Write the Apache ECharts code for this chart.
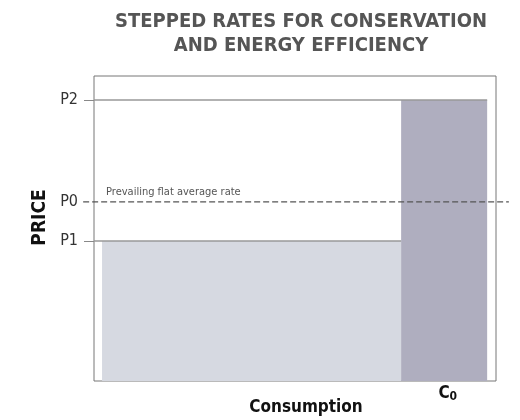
<!DOCTYPE html>
<html><head><meta charset="utf-8">
<script src="https://cdn.jsdelivr.net/npm/echarts@6/dist/echarts.min.js"></script>
<style>html,body{margin:0;padding:0;background:#fff}#c{width:520px;height:420px}</style>
</head><body><div id="c"></div>
<script>
// Data
const tierNames = ['P1', 'P2'];
const tierStart = [2, 76.4];     // consumption where each tier bar begins
const tierEnd = [76.4, 97.8];    // consumption where each tier bar ends
const tierPrice = [45.9, 92.1];  // price level of each tier
const flatRateName = 'P0';
const flatRate = 58.7;
const flatRateText = 'Prevailing flat average rate';
const priceTickNames = ['P1', 'P0', 'P2'];
const priceTickValues = [45.9, 58.7, 92.1];
const consumptionMarkName = 'C0';
const consumptionMarkValue = 88;
const tierColors = ['#d6d9e1', '#afaebf'];

const FONT = "'Liberation Sans Narrow', 'DejaVu Sans Condensed', 'Roboto Condensed', sans-serif";

const barData = tierNames.map((n, i) => [tierStart[i], tierEnd[i], tierPrice[i], i]);
const lineData = tierNames.map((n, i) => [0, tierEnd[i], tierPrice[i]]);

const chart = echarts.init(document.getElementById('c'));
chart.setOption({
  animation: false,
  title: {
    text: 'STEPPED RATES FOR CONSERVATION\nAND ENERGY EFFICIENCY',
    left: 296, top: 5, textAlign: 'center',
    textStyle: { fontFamily: FONT, fontWeight: 'bold', fontSize: 20, color: '#555', lineHeight: 24 }
  },
  grid: { left: 94, top: 76, width: 402, height: 305, show: true, borderColor: '#777', borderWidth: 1,
    backgroundColor: 'transparent', outerBoundsMode: 'none', containLabel: false },
  xAxis: {
    type: 'value', min: 0, max: 100,
    axisLine: { show: false }, splitLine: { show: false }, axisTick: { show: false },
    name: 'Consumption', nameLocation: 'middle', nameGap: 18, nameMoveOverlap: false,
    nameTextStyle: { fontFamily: FONT, fontWeight: 'bold', fontSize: 17, color: '#111', padding: [0, 0, 0, 22] },
    axisLabel: {
      customValues: [consumptionMarkValue], margin: 4,
      formatter: () => '{c|' + consumptionMarkName.charAt(0) + '}{s|' + consumptionMarkName.slice(1) + '}',
      rich: {
        c: { fontFamily: FONT, fontWeight: 'bold', fontSize: 17, color: '#111' },
        s: { fontFamily: FONT, fontWeight: 'bold', fontSize: 12, color: '#111', verticalAlign: 'bottom', padding: [6, 0, 0, 0] }
      }
    }
  },
  yAxis: {
    type: 'value', min: 0, max: 100,
    axisLine: { show: false }, splitLine: { show: false },
    axisTick: { show: true, customValues: [tierPrice[0], tierPrice[1]], length: 10, lineStyle: { color: '#888' } },
    axisLabel: {
      customValues: priceTickValues, margin: 16,
      formatter: (v) => priceTickNames[priceTickValues.indexOf(v)],
      fontFamily: FONT, fontSize: 16, color: '#333'
    },
    name: 'PRICE', nameLocation: 'middle', nameGap: 44, nameRotate: 90, nameMoveOverlap: false,
    nameTextStyle: { fontFamily: FONT, fontWeight: 'bold', fontSize: 19, color: '#111', padding: [0, 0, 0, 22] }
  },
  series: [
    {
      type: 'custom', data: barData, clip: false, z: 1,
      renderItem: (params, api) => {
        const p0 = api.coord([api.value(0), api.value(2)]);
        const p1 = api.coord([api.value(1), 0]);
        return { type: 'rect', shape: { x: p0[0], y: p0[1], width: p1[0] - p0[0], height: p1[1] - p0[1] },
          style: { fill: tierColors[api.value(3)] } };
      }
    },
    {
      type: 'custom', data: lineData, clip: false, z: 2,
      renderItem: (params, api) => {
        const a = api.coord([api.value(0), api.value(2)]);
        const b = api.coord([api.value(1), api.value(2)]);
        return { type: 'line', shape: { x1: a[0], y1: a[1], x2: b[0], y2: b[1] },
          style: { stroke: '#999', lineWidth: 1.5 } };
      }
    },
    {
      type: 'custom', data: [[-2.7, 103.2, flatRate]], clip: false, z: 3,
      renderItem: (params, api) => {
        const a = api.coord([api.value(0), api.value(2)]);
        const b = api.coord([api.value(1), api.value(2)]);
        const t = api.coord([3, api.value(2)]);
        return { type: 'group', children: [
          { type: 'line', shape: { x1: a[0], y1: a[1], x2: b[0], y2: b[1] },
            style: { stroke: '#555', lineWidth: 1.2, lineDash: [6, 3] } },
          { type: 'text', x: t[0], y: t[1] - 4,
            style: { text: flatRateText, fontFamily: FONT, fontSize: 11, fill: '#555', align: 'left', verticalAlign: 'bottom' } }
        ] };
      }
    }
  ]
});
</script></body></html>
